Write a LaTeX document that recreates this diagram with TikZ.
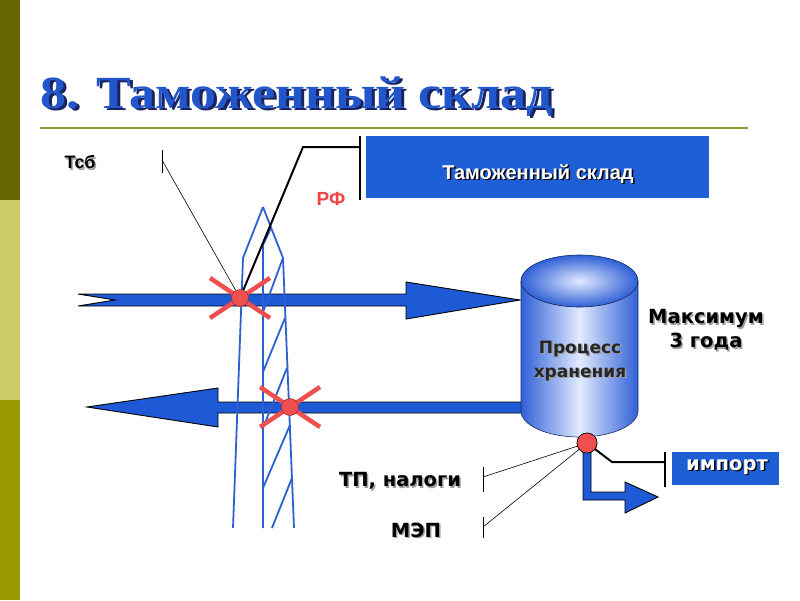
\documentclass[tikz,border=0pt]{standalone}
\usepackage{fontspec}
\setmainfont{Liberation Serif}
\newfontfamily\dvs{DejaVu Sans}
\newfontfamily\lsans{Liberation Sans}
\definecolor{barA}{HTML}{666600}
\definecolor{barB}{HTML}{CCCC66}
\definecolor{barC}{HTML}{999900}
\definecolor{rulecol}{HTML}{999933}
\definecolor{titleblue}{HTML}{2257CC}
\definecolor{titleshadow}{HTML}{1A2260}
\definecolor{boxblue}{HTML}{1F5FD6}
\definecolor{arrblue}{HTML}{1F5AD6}
\definecolor{towerblue}{HTML}{2D60D0}
\definecolor{xred}{HTML}{F04F4F}
\definecolor{rfred}{HTML}{EE4444}
\definecolor{cylblue}{HTML}{2F60D6}
\definecolor{cyllight}{HTML}{E2EAFF}
\definecolor{labshadow}{HTML}{A0A0A0}
\newcommand\shnode[6]{%
  \node[#2, text=#4, xshift=1.5pt, yshift=-1.5pt] (#1-sh) at #3 {#6};
  \node[#2, text=#5] (#1) at #3 {#6};}
\newcommand\titletext{8. Таможенный склад}
\begin{document}
\begin{tikzpicture}[x=1pt,y=-1pt,
  lab/.style={font=\dvs\bfseries\fontsize{17}{24}\selectfont, inner sep=0, align=center},
  labb/.style={font=\dvs\bfseries\fontsize{19.5}{24}\selectfont, inner sep=0, align=center},
  labs/.style={font=\lsans\bfseries\fontsize{18}{22}\selectfont, inner sep=0},
  labbox/.style={font=\lsans\bfseries\fontsize{20}{22}\selectfont, inner sep=0},
  titlefont/.style={font=\bfseries\fontsize{46}{50}\selectfont, inner sep=0, anchor=base west},
  tower/.style={draw=towerblue, line width=1.8pt, line join=round},
  arrowshape/.style={fill=arrblue, draw=black, line width=0.9pt, line join=miter},
  xline/.style={draw=xred, line width=4.5pt},
  xdot/.style={circle, fill=xred, draw=xred!60!black, line width=0.5pt, minimum size=17pt, inner sep=0},
  thinlead/.style={draw=black, line width=0.6pt},
  thicklead/.style={draw=black, line width=2pt},
  bluebox/.style={fill=boxblue, inner sep=0},
]
\useasboundingbox (0,0) rectangle (800,600);
\fill[white] (0,0) rectangle (800,600);
% left bar
\fill[barA] (0,0) rectangle (20,200);
\fill[barB] (0,200) rectangle (20,400);
\fill[barC] (0,400) rectangle (20,600);
% title (with drop shadow inside the same node)
\node[titlefont] (title) at (40,108) {\scalebox{1.13}[1]{\rlap{\hspace{2.5pt}\raisebox{-2.5pt}{\color{titleshadow}\titletext}}\color{titleblue}\titletext}};
\draw[rulecol, line width=2.5pt] (40,128) -- (748,128);

% customs warehouse box
\node[bluebox, minimum width=343pt, minimum height=62pt] (tsbox) at (537.5,167) {};
\shnode{tstext}{labbox}{(538,174)}{black}{white}{Таможенный склад}

% arrows
\path[arrowshape] (78,294) -- (406,294) -- (406,282) -- (520,300) -- (406,319)
  -- (406,306) -- (78,306) -- (115,300) -- cycle;
\path[arrowshape] (87,407) -- (218,388) -- (218,402) -- (524,402) -- (524,413)
  -- (218,413) -- (218,427) -- cycle;

% tower
\draw[tower] (263,207) -- (243,258) -- (233,528);
\draw[tower] (263,207) -- (283,258) -- (294,528);
\draw[tower] (271,228) -- (263,245) -- (263,528);
\draw[tower] (283,258) -- (263,312);
\draw[tower] (285,318) -- (263,372);
\draw[tower] (287,368) -- (263,428);
\draw[tower] (290,425) -- (263,488);
\draw[tower] (292,478) -- (272,528);

% cylinder
\shade[left color=cylblue, right color=cylblue, middle color=cyllight]
  (521,281) -- (521,411) arc[start angle=180, end angle=0, x radius=58.5, y radius=26]
  -- (638,281) arc[start angle=0, end angle=-180, x radius=58.5, y radius=26] -- cycle;
\shade[inner color=cyllight, outer color=cylblue] (579.5,281) ellipse [x radius=58.5, y radius=26];
\draw[cylblue!50!black, line width=0.6pt]
  (521,281) -- (521,411) arc[start angle=180, end angle=0, x radius=58.5, y radius=26]
  -- (638,281) arc[start angle=0, end angle=-180, x radius=58.5, y radius=26] -- cycle;
\draw[cylblue!40!black, line width=0.6pt] (521,281) arc[start angle=180, end angle=0, x radius=58.5, y radius=26];
\shnode{proc}{lab}{(580,361)}{labshadow}{black!85}{Процесс\\хранения}

% red X markers
\draw[xline] (210,278) -- (270,318) (270,278) -- (210,318);
\node[xdot] (x1) at (240,298) {};
\draw[xline] (260,387) -- (320,427) (320,387) -- (260,427);
\node[xdot] (x2) at (290,407) {};

% labels top-left
\shnode{tsb}{labs}{(80,162)}{labshadow}{black}{Тсб}
\node[labs, text=rfred, font=\lsans\bfseries\fontsize{19}{22}\selectfont] (rf) at (331,199) {РФ};
\coordinate (tsbk) at (162,160);
\draw[thinlead] (162,150) -- (162,173);
\draw[thinlead] (tsbk) -- (x1);
\coordinate (rfk) at (303,147);
\coordinate (rfb) at (360,147);
\draw[thicklead] (360,136) -- (360,200);
\draw[thicklead] (x1) -- (rfk) -- (rfb);

% max label
\shnode{max}{labb}{(706,330)}{labshadow}{black}{Максимум\\3 года}

% bottom part
\node[circle, fill=xred, draw=black, line width=0.6pt, minimum size=20pt, inner sep=0] (c3) at (587,443) {};
\path[arrowshape] (583,452) -- (583,500) -- (625,500) -- (625,513) -- (658,497)
  -- (625,482) -- (625,492) -- (591,492) -- (591,452);
\node[circle, fill=xred, draw=black, line width=0.6pt, minimum size=20pt, inner sep=0] at (587,443) {};
\coordinate (tpk) at (483,477);
\coordinate (mepk) at (483,527);
\draw[thinlead] (483,467) -- (483,492);
\draw[thinlead] (483,517) -- (483,538);
\draw[thinlead] (c3) -- (tpk);
\draw[thinlead] (c3) -- (mepk);
\coordinate (impk) at (665,462);
\draw[thicklead] (c3) -- (612,462) -- (impk);
\draw[thicklead] (665,452) -- (665,487);
\node[bluebox, minimum width=107pt, minimum height=33pt] (impbox) at (725.5,468.5) {};
\shnode{imp}{labb}{(727,467)}{black}{white}{импорт}
\shnode{tp}{labb}{(400,481)}{labshadow}{black}{ТП, налоги}
\shnode{mep}{labb}{(416,530)}{labshadow}{black}{МЭП}
\end{tikzpicture}
\end{document}
